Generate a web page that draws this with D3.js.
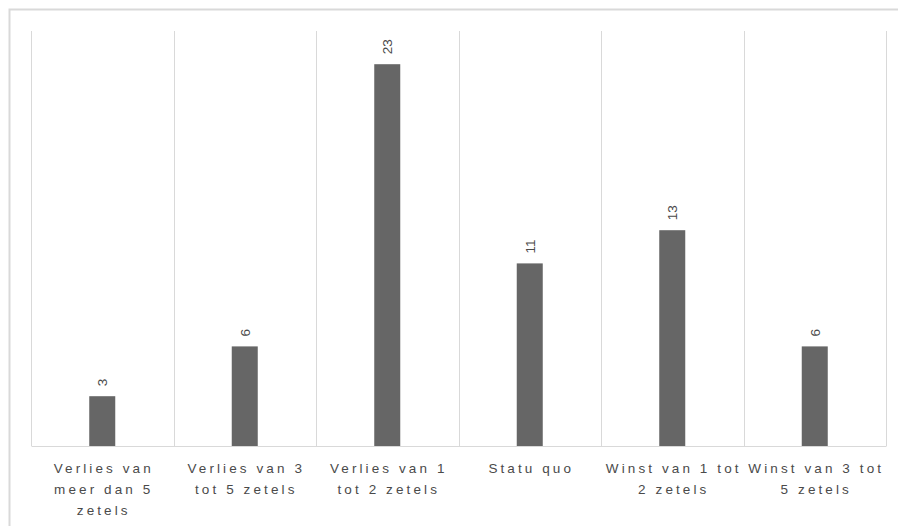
<!DOCTYPE html>
<html>
<head>
<meta charset="utf-8">
<script src="https://cdn.jsdelivr.net/npm/d3@7"></script>
<style>
  html, body { margin: 0; padding: 0; background: #fff; }
  svg { display: block; }
</style>
</head>
<body>
<svg id="chart" width="898" height="526"></svg>
<script>
// Seat change categories (line breaks mark where each label wraps)
const categories = [
  "Verlies van\nmeer dan 5\nzetels",
  "Verlies van 3\ntot 5 zetels",
  "Verlies van 1\ntot 2 zetels",
  "Statu quo",
  "Winst van 1 tot\n2 zetels",
  "Winst van 3 tot\n5 zetels"
];
const counts = [3, 6, 23, 11, 13, 6];
const yDomain = [0, 25];

const svg = d3.select("#chart");
const W = 898, H = 526;
const plot = { left: 31, right: 886, top: 31, bottom: 446 };

// outer chart frame
svg.append("rect")
  .attr("x", 9.5).attr("y", 9.5)
  .attr("width", W + 20).attr("height", H + 20)
  .attr("fill", "none")
  .attr("stroke", "#d9d9d9")
  .attr("stroke-width", 2);

const pad = 1 - 26 / ((plot.right - plot.left) / categories.length);
const x = d3.scaleBand()
  .domain(categories)
  .range([plot.left, plot.right])
  .paddingInner(pad)
  .paddingOuter(pad / 2);

const y = d3.scaleLinear().domain(yDomain).range([plot.bottom, plot.top]);

// vertical separators between categories
const bounds = d3.range(categories.length + 1).map(i => plot.left + i * x.step());
svg.append("g")
  .selectAll("line")
  .data(bounds)
  .join("line")
  .attr("x1", d => Math.round(d) + 0.5)
  .attr("x2", d => Math.round(d) + 0.5)
  .attr("y1", y(yDomain[1]))
  .attr("y2", y(0))
  .attr("stroke", "#d9d9d9")
  .attr("stroke-width", 1);

// bars
svg.append("g")
  .selectAll("rect")
  .data(categories)
  .join("rect")
  .attr("x", d => x(d))
  .attr("width", x.bandwidth())
  .attr("y", (d, i) => y(counts[i]))
  .attr("height", (d, i) => y(0) - y(counts[i]))
  .attr("fill", "#666666");

// baseline axis
const xAxis = d3.axisBottom(x).tickSize(0).tickFormat("");
const axisG = svg.append("g")
  .attr("transform", `translate(0,${y(0)})`)
  .call(xAxis);
axisG.select(".domain").attr("stroke", "#d9d9d9");

// value labels, rotated
svg.append("g")
  .selectAll("text")
  .data(categories)
  .join("text")
  .attr("transform", (d, i) =>
    `translate(${x(d) + x.bandwidth() / 2 + 5},${y(counts[i]) - 10}) rotate(-90)`)
  .attr("text-anchor", "start")
  .attr("font-family", "Liberation Sans, Arial, sans-serif")
  .attr("font-size", 13.5)
  .attr("fill", "#4a4a4a")
  .text((d, i) => counts[i]);

// category labels
const labels = svg.append("g")
  .selectAll("text")
  .data(categories)
  .join("text")
  .attr("x", d => x(d) + x.bandwidth() / 2)
  .attr("y", 473)
  .attr("text-anchor", "middle")
  .attr("font-family", "Liberation Sans, Arial, sans-serif")
  .attr("font-size", 13.5)
  .attr("letter-spacing", "3.1px")
  .attr("fill", "#4a4a4a");

labels.each(function (d) {
  const t = d3.select(this);
  d.split("\n").forEach((line, j) => {
    t.append("tspan")
      .attr("x", x(d) + x.bandwidth() / 2 + 1.5)
      .attr("dy", j === 0 ? 0 : 21)
      .text(line);
  });
});
</script>
</body>
</html>
